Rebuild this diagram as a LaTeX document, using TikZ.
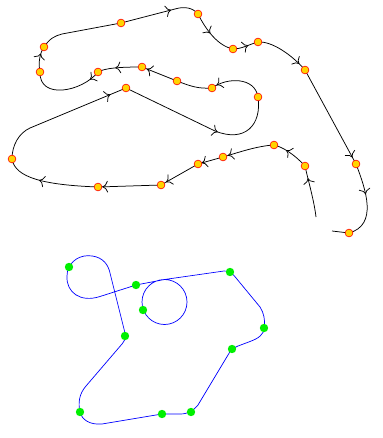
\documentclass[tikz,border=0pt]{standalone}
\usetikzlibrary{decorations.markings,arrows.meta}
\definecolor{dotfill}{RGB}{255,212,0}
\definecolor{dotgreen}{RGB}{0,240,0}
\tikzset{
  arrat/.style={postaction={decorate},decoration={markings,mark=at position #1 with {\arrow{To[scale=1.7]}}}},
  blk/.style={draw=black,line width=0.75pt},
  blu/.style={draw=blue,line width=0.7pt},
  odot/.style={circle,draw=red,fill=dotfill,line width=0.6pt,inner sep=0pt,minimum size=7.8pt},
  gdot/.style={circle,fill=dotgreen,inner sep=0pt,minimum size=8.4pt},
}
\begin{document}
\begin{tikzpicture}[x=1pt,y=-1pt]
\useasboundingbox (0,0) rectangle (382,438);
% black path points
\coordinate (S) at (316,217);
\coordinate (P1) at (305,166);
\coordinate (P2) at (274,145);
\coordinate (P3) at (223,157);
\coordinate (P4) at (198,164);
\coordinate (P5) at (161,185);
\coordinate (P6) at (98,187);
\coordinate (P7) at (12,159);
\coordinate (P8) at (126,88);
\coordinate (P9) at (258,97);
\coordinate (P10) at (212,88);
\coordinate (P11) at (177,81);
\coordinate (P12) at (142,67);
\coordinate (P13) at (98,72);
\coordinate (P14) at (40,72);
\coordinate (P15) at (44,47);
\coordinate (P16) at (121,23);
\coordinate (P17) at (198,14);
\coordinate (P18) at (233,49);
\coordinate (P19) at (258,42);
\coordinate (P20) at (305,70);
\coordinate (P21) at (356,164);
\coordinate (P22) at (349,233);
\coordinate (E) at (332,231);
% black segments
\draw[blk,arrat=0.76] (S) .. controls (314,200) and (308,180) .. (P1);
\draw[blk,arrat=0.65] (P1) .. controls (295,155) and (283,147) .. (P2);
\draw[blk,arrat=0.9] (P2) .. controls (257,146) and (240,152) .. (P3);
\draw[blk,arrat=0.85] (P3) -- (P4);
\draw[blk,arrat=0.86] (P4) -- (P5);
\draw[blk,arrat=0.93] (P5) -- (P6);
\draw[blk,arrat=0.62] (P6) .. controls (45,185) and (15,178) .. (P7);
\draw[blk,arrat=0.88] (P7) .. controls (12,145) and (19,133) .. (30,128) -- (P8);
\draw[blk,arrat=0.6] (P8) -- (215,131) .. controls (245,143) and (262,125) .. (P9);
\draw[blk,arrat=0.9] (P9) .. controls (255,77) and (227,77) .. (P10);
\draw[blk] (P10) .. controls (198,89) and (190,86) .. (P11);
\draw[blk,arrat=0.86] (P11) -- (P12);
\draw[blk,arrat=0.6] (P12) .. controls (120,67) and (105,68) .. (P13);
\draw[blk,arrat=0.15] (P13) .. controls (82,92) and (39,100) .. (P14);
\draw[blk,arrat=0.72] (P14) .. controls (38,62) and (40,53) .. (P15);
\draw[blk] (P15) .. controls (50,38) and (55,36) .. (62,34) -- (P16);
\draw[blk,arrat=0.64] (P16) -- (175,9) .. controls (185,6) and (193,8) .. (P17);
\draw[blk,arrat=0.45] (P17) .. controls (206,30) and (218,46) .. (P18);
\draw[blk,arrat=0.6] (P18) .. controls (242,49) and (250,44) .. (P19);
\draw[blk,arrat=0.85] (P19) .. controls (272,41) and (292,55) .. (P20);
\draw[blk,arrat=0.93] (P20) -- (P21);
\draw[blk,arrat=0.4] (P21) .. controls (366,190) and (378,225) .. (P22);
\draw[blk] (P22) -- (E);
% orange dots
\foreach \p in {P1,P2,P3,P4,P5,P6,P7,P8,P9,P10,P11,P12,P13,P14,P15,P16,P17,P18,P19,P20,P21,P22}
  \node[odot] (d\p) at (\p) {};
% blue path points
\coordinate (G1) at (69,267);
\coordinate (G2) at (136,285);
\coordinate (G3) at (143,310);
\coordinate (G4) at (125,336);
\coordinate (G5) at (230,272);
\coordinate (G6) at (264,328);
\coordinate (G7) at (232,349);
\coordinate (G8) at (191,412);
\coordinate (G9) at (162,414);
\coordinate (G10) at (80,412);
\coordinate (T) at (164.5,279.5);
\draw[blu] (G10) .. controls (82,420) and (90,425) .. (102,424)
  -- (G9) -- (180,414) .. controls (188,414) and (193,411) .. (198,405)
  -- (228,355) .. controls (230,351) and (233,348) .. (238,346)
  -- (250,341.5) .. controls (258,338.5) and (264,335) .. (264.5,327)
  .. controls (265,320) and (264,313) .. (260,307)
  -- (234,275.5) .. controls (232,272.5) and (229,271) .. (224,271)
  -- (T)
  .. controls (152.07,279.5) and (142,289.57) .. (142,302)
  .. controls (142,314.43) and (152.07,324.5) .. (164.5,324.5)
  .. controls (176.93,324.5) and (187,314.43) .. (187,302)
  .. controls (187,289.57) and (176.93,279.5) .. (T)
  -- (G2) -- (100,296.5)
  .. controls (80,303) and (66,292) .. (67,276)
  .. controls (67,264) and (77,255.7) .. (88,255.7)
  .. controls (100,255.7) and (107,262) .. (109.5,271)
  -- (125,333) .. controls (126,338) and (125,340) .. (122,344)
  -- (86,386) .. controls (79,394) and (78,403) .. (G10);
\foreach \g in {G1,G2,G3,G4,G5,G6,G7,G8,G9,G10}
  \node[gdot] (d\g) at (\g) {};
\end{tikzpicture}
\end{document}
